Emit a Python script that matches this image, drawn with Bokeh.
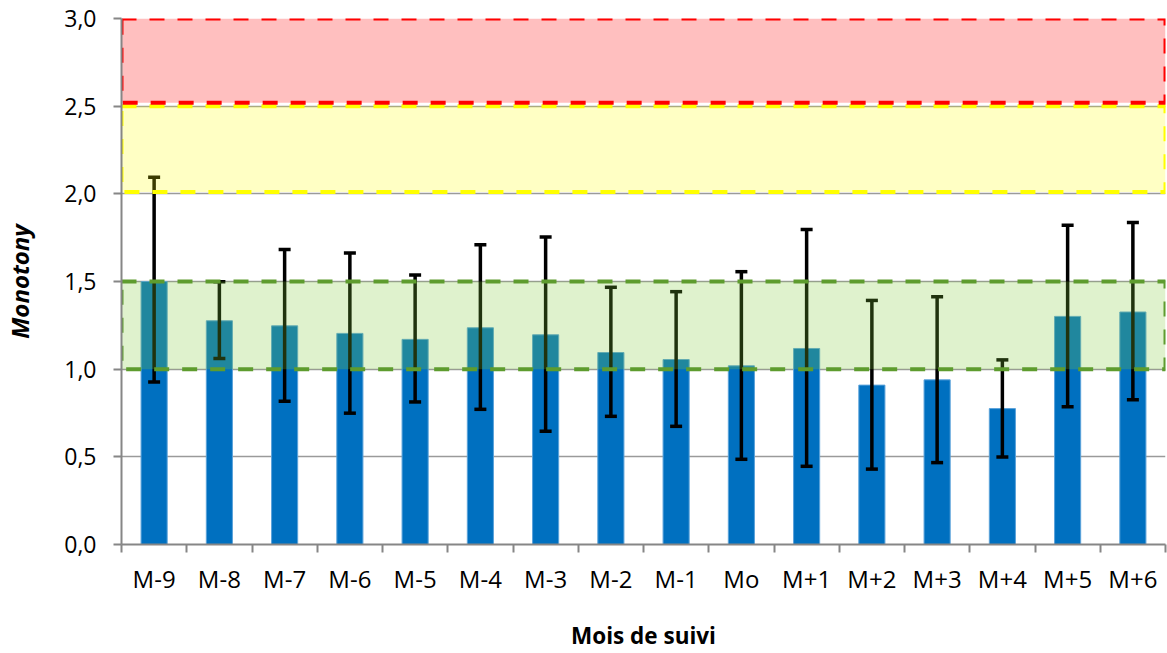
import numpy as np
from bokeh.plotting import figure
from bokeh.models import Range1d, FixedTicker, CustomJSTickFormatter
from bokeh.embed import file_html
from bokeh.resources import INLINE

# ---- data ----
categories = ["M-9", "M-8", "M-7", "M-6", "M-5", "M-4", "M-3", "M-2",
              "M-1", "M0", "M+1", "M+2", "M+3", "M+4", "M+5", "M+6"]
display_labels = ["M-9", "M-8", "M-7", "M-6", "M-5", "M-4", "M-3", "M-2",
                  "M-1", "Mo", "M+1", "M+2", "M+3", "M+4", "M+5", "M+6"]
monotony = [1.50, 1.276, 1.247, 1.204, 1.170, 1.236, 1.196, 1.095,
            1.055, 1.019, 1.118, 0.909, 0.939, 0.775, 1.301, 1.326]
err_high = [2.095, 1.499, 1.682, 1.663, 1.537, 1.709, 1.754, 1.467,
            1.442, 1.556, 1.796, 1.392, 1.413, 1.053, 1.821, 1.836]
err_low = [0.927, 1.061, 0.817, 0.749, 0.813, 0.771, 0.646, 0.731,
           0.674, 0.486, 0.446, 0.430, 0.467, 0.499, 0.785, 0.825]
y_ticks = [0.0, 0.5, 1.0, 1.5, 2.0, 2.5, 3.0]
band_low = [1.0, 2.01, 2.52]
band_high = [1.5, 2.5, 3.0]
band_fill = ["#7FCD38", "#FFFF00", "#FF0000"]
band_alpha = [0.25, 0.23, 0.25]
band_line = ["#5E9C2E", "#FFFF00", "#FF0000"]

n = len(categories)
x = np.arange(n) + 0.5

p = figure(width=1167, height=653, x_range=Range1d(0, n), y_range=Range1d(0, 3),
           output_backend="svg", toolbar_location=None,
           min_border_left=120, min_border_right=2, min_border_top=18,
           min_border_bottom=108)
p.outline_line_color = None
p.background_fill_color = "white"

# grid
p.xgrid.visible = False
p.ygrid.ticker = FixedTicker(ticks=y_ticks)
p.ygrid.grid_line_color = "#9A9A9A"
p.ygrid.grid_line_width = 1.5

# bars
p.vbar(x=x, top=monotony, bottom=0, width=0.4, fill_color="#0070C0",
       line_color="#5AA2DA", line_width=1)

# error bars
p.segment(x0=x, y0=err_low, x1=x, y1=err_high, line_color="black", line_width=3.5)
p.scatter(x=list(x) * 2, y=err_low + err_high, marker="dash", size=12,
          line_color="black", line_width=3.5)

# bands
for lo, hi, fc, fa, lc in zip(band_low, band_high, band_fill, band_alpha, band_line):
    p.quad(left=0, right=n, bottom=lo, top=hi, fill_color=fc, fill_alpha=fa,
           line_color=lc, line_width=4, line_dash="15 13")

# y axis
ya = p.yaxis[0]
ya.ticker = FixedTicker(ticks=y_ticks)
ya.formatter = CustomJSTickFormatter(code="return tick.toFixed(1).replace('.', ',');")
ya.axis_line_color = "#868686"
ya.axis_line_width = 2
ya.major_tick_line_color = "#868686"
ya.major_tick_line_width = 2
ya.major_tick_out = 8
ya.major_tick_in = 0
ya.minor_tick_line_color = None
ya.major_label_standoff = 17
ya.major_label_text_font = "Open Sans"
ya.major_label_text_font_size = "23px"
ya.major_label_text_color = "black"
ya.axis_label = "Monotony"
ya.axis_label_text_font = "Open Sans"
ya.axis_label_text_font_style = "bold italic"
ya.axis_label_text_font_size = "24px"
ya.axis_label_text_color = "black"
ya.axis_label_standoff = 25

# x axis
xa = p.xaxis[0]
xa.ticker = FixedTicker(ticks=list(x), minor_ticks=list(range(n + 1)))
xa.formatter = CustomJSTickFormatter(args=dict(labels=display_labels),
                                     code="return labels[Math.floor(tick)];")
xa.axis_line_color = "#868686"
xa.axis_line_width = 2
xa.major_tick_line_color = None
xa.major_tick_out = 0
xa.major_tick_in = 0
xa.minor_tick_line_color = "#868686"
xa.minor_tick_line_width = 2
xa.minor_tick_out = 8
xa.minor_tick_in = 0
xa.major_label_standoff = 9
xa.major_label_text_font = "Open Sans"
xa.major_label_text_font_size = "24px"
xa.major_label_text_color = "black"
xa.axis_label = "Mois de suivi"
xa.axis_label_text_font = "Open Sans"
xa.axis_label_text_font_style = "bold"
xa.axis_label_text_font_size = "22.5px"
xa.axis_label_text_color = "black"
xa.axis_label_standoff = 22

open("out.html", "w").write(file_html(p, INLINE))
